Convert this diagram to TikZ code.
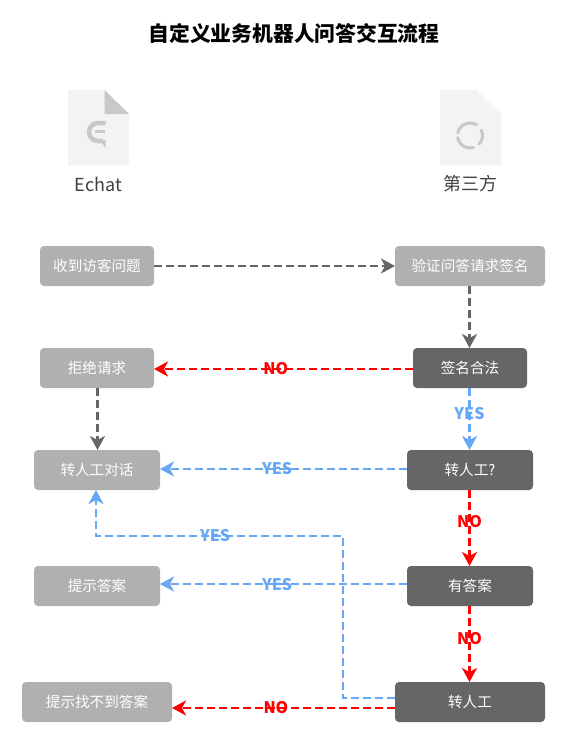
\documentclass[tikz,border=0pt]{standalone}
\usepackage{xcolor}
\usepackage{fontspec}
\setmainfont{Noto Sans CJK SC}
\usetikzlibrary{positioning,arrows.meta,calc}
\definecolor{boxlight}{RGB}{176,176,176}
\definecolor{boxdark}{RGB}{102,102,102}
\definecolor{lineblue}{RGB}{102,168,245}
\definecolor{linered}{RGB}{255,0,0}
\definecolor{paper}{RGB}{243,243,243}
\definecolor{foldgray}{RGB}{200,200,200}
\tikzset{
  lightbox/.style={fill=boxlight, rounded corners=4pt, minimum height=40pt, outer sep=0pt,
                   inner sep=0pt, text=white, font=\fontsize{14.6}{17}\selectfont},
  darkbox/.style={lightbox, fill=boxdark},
  grayline/.style={-{Stealth[length=14pt, width=15pt, inset=4pt]}, line width=2.2pt, boxdark,
                   dash pattern=on 8pt off 4pt},
  yesline/.style={grayline, lineblue},
  noline/.style={grayline, linered},
  yeslbl/.style={font=\fontsize{16}{18}\selectfont\bfseries, text=lineblue, inner sep=0pt},
  nolbl/.style={yeslbl, text=linered},
  caption/.style={font=\fontsize{18}{20}\selectfont, text=black!75, inner sep=0pt}
}
\begin{document}
\begin{tikzpicture}[x=1pt, y=1pt, node distance=62pt]
    \useasboundingbox (0,0) rectangle (570,-753);
    \node[font=\fontsize{20.8}{24}\selectfont\bfseries, inner sep=0pt] (title) at (294,-33) {自定义业务机器人问答交互流程};

    \fill[paper] (68,-90) -- (104.5,-90) -- (129,-114) -- (129,-165) -- (68,-165) -- cycle;
    \fill[foldgray] (104.5,-90) -- (129,-114) -- (104.5,-114) -- cycle;
    \draw[foldgray, line width=4.5pt] (105.5,-123) -- (98,-123) arc[start angle=90, end angle=270, radius=9] -- (103,-141);
    \fill[foldgray] (100,-140) -- (105.5,-140) -- (105.5,-148) -- cycle;
    \draw[foldgray, line width=3pt] (95,-131.5) -- (105,-131.5);
    \node[caption] (echat) at (98.5,-184) {Echat};

    \fill[paper] (440,-90) -- (476.5,-90) -- (501,-114) -- (501,-165) -- (440,-165) -- cycle;
    \draw[foldgray, line width=3pt, line cap=round] (470,-135.5) ++(58:12.5) arc[start angle=58, end angle=168, radius=12.5];
    \draw[foldgray, line width=3pt, line cap=round] (470,-135.5) ++(190:12.5) arc[start angle=190, end angle=286, radius=12.5];
    \draw[foldgray, line width=3pt, line cap=round] (470,-135.5) ++(317:12.5) arc[start angle=317, end angle=386, radius=12.5];
    \node[caption] (third) at (470,-184) {第三方};

    \node[lightbox, minimum width=114pt] (recv) at (97,-266) {收到访客问题};
    \node[lightbox, minimum width=114pt, below=of recv] (reject) {拒绝请求};
    \node[lightbox, minimum width=126pt, below=of reject] (chat) {转人工对话};
    \node[lightbox, minimum width=126pt, below=76pt of chat] (hint) {提示答案};
    \node[lightbox, minimum width=150pt, below=76pt of hint] (notfound) {提示找不到答案};

    \node[lightbox, minimum width=150pt] (verify) at (470,-266) {验证问答请求签名};
    \node[darkbox, minimum width=114pt, below=of verify] (sign) {签名合法};
    \node[darkbox, minimum width=126pt, below=of sign] (ask) {转人工?};
    \node[darkbox, minimum width=126pt, below=76pt of ask] (has) {有答案};
    \node[darkbox, minimum width=150pt, below=76pt of has] (human) {转人工};

    \coordinate (turn) at (343,-536);

    \draw[grayline] (recv) -- (verify);
    \draw[grayline] ([xshift=-.5pt]verify.south) -- ([xshift=-.5pt]sign.north);
    \draw[grayline] ([xshift=.5pt]reject.south) -- ([xshift=.5pt]chat.north);
    \draw[noline] ([yshift=-1pt]sign.west) -- node[nolbl, pos=.53]{NO} ([yshift=-1pt]reject.east);
    \draw[yesline] ([xshift=-.5pt]sign.south) -- node[yeslbl, pos=.41]{YES} ([xshift=-.5pt]ask.north);
    \draw[yesline] ([yshift=1pt]ask.west) -- node[yeslbl, pos=.526]{YES} ([yshift=1pt]chat.east);
    \draw[noline] ([xshift=-.5pt]ask.south) -- node[nolbl, pos=.41]{NO} ([xshift=-.5pt]has.north);
    \draw[yesline] ([yshift=2pt]has.west) -- node[yeslbl, pos=.526, yshift=-1pt]{YES} ([yshift=2pt]hint.east);
    \draw[noline] ([xshift=-.5pt]has.south) -- node[nolbl, pos=.43]{NO} ([xshift=-.5pt]human.north);
    \draw[noline] ([yshift=-6pt]human.west) -- node[nolbl, pos=.534]{NO} ([yshift=-6pt]notfound.east);
    \draw[yesline] ([yshift=4pt]human.west) -| (turn) -| node[yeslbl, pos=.259]{YES} ([xshift=-1pt]chat.south);
  \end{tikzpicture}
\end{document}
